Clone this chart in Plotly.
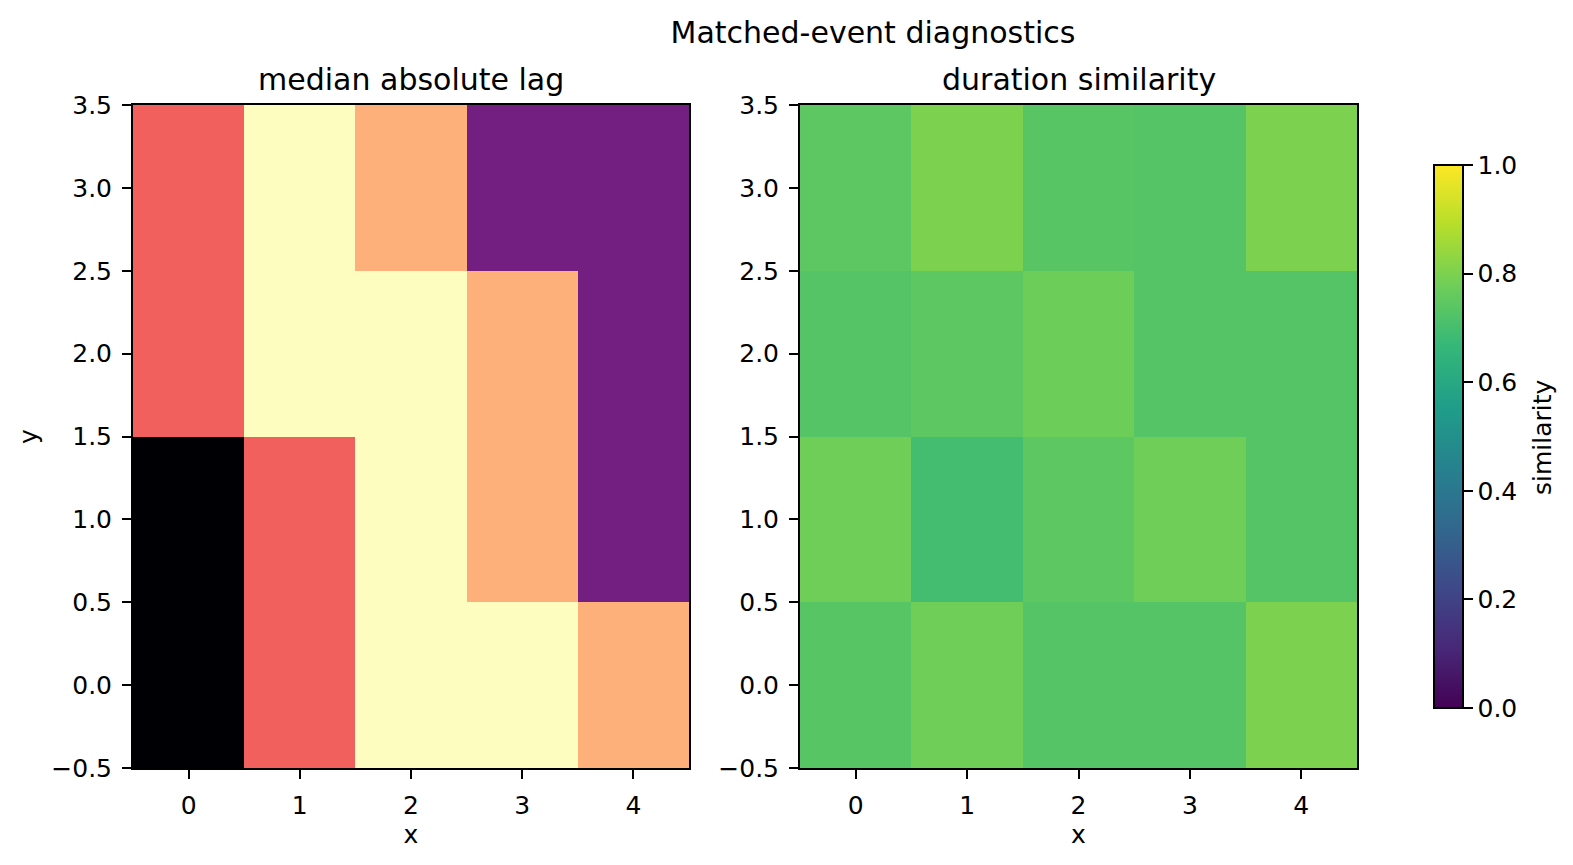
import plotly.graph_objects as go

W, H = 1573, 865

x_cats = [0, 1, 2, 3, 4]
y_cats = [0, 1, 2, 3]

# median absolute lag (rows = y from 0 to 3)
lag = [
    [0, 4, 6, 6, 5],
    [0, 4, 6, 5, 2],
    [4, 6, 6, 5, 2],
    [4, 6, 5, 2, 2],
]

# duration similarity (rows = y from 0 to 3)
similarity = [
    [0.735, 0.78, 0.73, 0.73, 0.80],
    [0.78, 0.695, 0.745, 0.78, 0.73],
    [0.73, 0.745, 0.775, 0.73, 0.73],
    [0.745, 0.80, 0.735, 0.73, 0.80],
]

y_ticks = [-0.5, 0.0, 0.5, 1.0, 1.5, 2.0, 2.5, 3.0, 3.5]
cbar_ticks = [0, 0.2, 0.4, 0.6, 0.8, 1.0]

FONT = "DejaVu Sans"
TICK_SIZE = 25
TITLE_SIZE = 30
LW = 2

def px_x(p):
    return p / W

def px_y(p):
    return 1 - p / H

fig = go.Figure()

fig.add_trace(go.Heatmap(
    x=x_cats, y=y_cats, z=lag,
    colorscale="Magma", zmin=0, zmax=6,
    showscale=False, xaxis="x", yaxis="y",
))

fig.add_trace(go.Heatmap(
    x=x_cats, y=y_cats, z=similarity,
    colorscale="Viridis", zmin=0, zmax=1,
    xaxis="x2", yaxis="y2",
    colorbar=dict(
        x=px_x(1434), xanchor="left",
        y=px_y(708), yanchor="bottom",
        len=708 - 165, lenmode="pixels",
        thickness=29, thicknessmode="pixels",
        xpad=0, ypad=0,
        outlinewidth=LW, outlinecolor="black",
        ticks="outside", ticklen=9, tickwidth=LW, tickcolor="black",
        tickvals=cbar_ticks,
        tickformat=".1f",
        tickfont=dict(family=FONT, size=TICK_SIZE, color="black"),
    ),
))

axis_common = dict(
    showline=True, mirror=True, linecolor="black", linewidth=LW,
    ticks="outside", ticklen=9, tickwidth=LW, tickcolor="black",
    showgrid=False, zeroline=False,
    ticklabelstandoff=5,
    tickfont=dict(family=FONT, size=TICK_SIZE, color="black"),
)

xdom1 = [px_x(133), px_x(689)]
xdom2 = [px_x(800), px_x(1357)]
ydom = [px_y(768), px_y(105)]

fig.update_layout(
    width=W, height=H,
    margin=dict(l=0, r=0, t=0, b=0, autoexpand=False),
    paper_bgcolor="white", plot_bgcolor="white",
    font=dict(family=FONT, size=TICK_SIZE, color="black"),
    xaxis=dict(domain=xdom1, range=[-0.5, 4.5], tickvals=x_cats, anchor="y",
               title=dict(text="x", standoff=3, font=dict(family=FONT, size=TICK_SIZE)), **axis_common),
    yaxis=dict(domain=ydom, range=[-0.5, 3.5], tickvals=y_ticks, tickformat=".1f", anchor="x",
               title=dict(text="y", standoff=7, font=dict(family=FONT, size=TICK_SIZE)), **axis_common),
    xaxis2=dict(domain=xdom2, range=[-0.5, 4.5], tickvals=x_cats, anchor="y2",
                title=dict(text="x", standoff=3, font=dict(family=FONT, size=TICK_SIZE)), **axis_common),
    yaxis2=dict(domain=ydom, range=[-0.5, 3.5], tickvals=y_ticks, tickformat=".1f", anchor="x2",
                **axis_common),
    title=dict(text="Matched-event diagnostics", x=px_x(873), xanchor="center",
               y=px_y(32), yanchor="middle", xref="paper", yref="container",
               font=dict(family=FONT, size=TITLE_SIZE, color="black")),
    annotations=[
        dict(text="median absolute lag", x=(xdom1[0] + xdom1[1]) / 2, y=px_y(79),
             xref="paper", yref="paper", xanchor="center", yanchor="middle",
             showarrow=False, font=dict(family=FONT, size=TITLE_SIZE, color="black")),
        dict(text="duration similarity", x=(xdom2[0] + xdom2[1]) / 2, y=px_y(79),
             xref="paper", yref="paper", xanchor="center", yanchor="middle",
             showarrow=False, font=dict(family=FONT, size=TITLE_SIZE, color="black")),
        dict(text="similarity", x=px_x(1542), y=px_y(437), textangle=-90,
             xref="paper", yref="paper", xanchor="center", yanchor="middle",
             showarrow=False, font=dict(family=FONT, size=TICK_SIZE, color="black")),
    ],
)

fig.write_html("out.html")
